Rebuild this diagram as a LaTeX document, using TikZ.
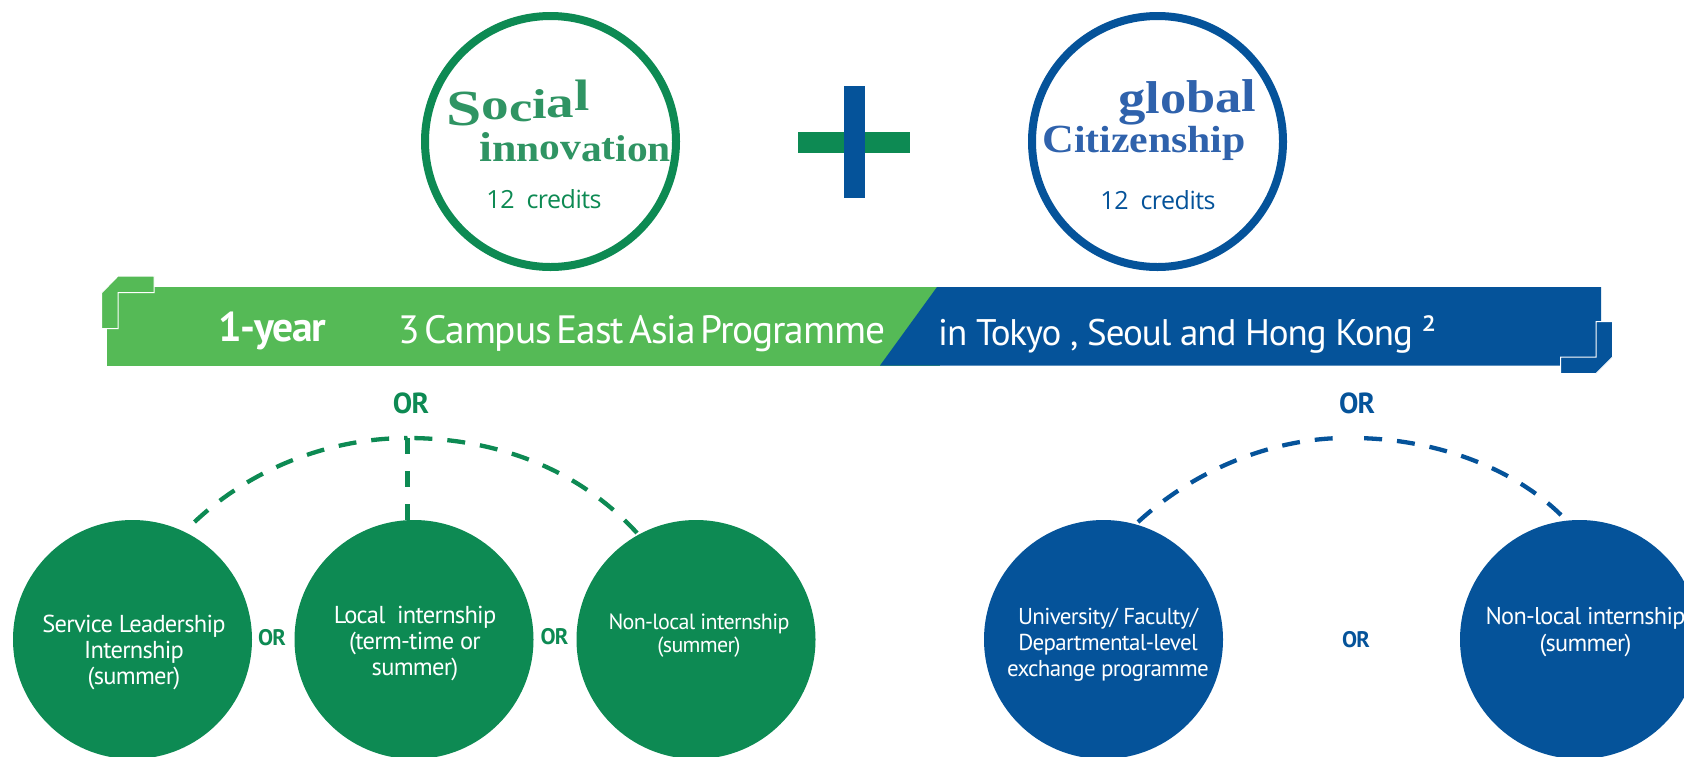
\documentclass[tikz,border=0pt]{standalone}
\usepackage{fontspec}
\setmainfont{PT Sans}[LetterSpace=-3]
\newfontfamily\logofont{Liberation Serif}[BoldFont={Liberation Serif Bold}]
\newfontfamily\crfont{Open Sans}[LetterSpace=-2]
\definecolor{dgreen}{HTML}{0D8A53}
\definecolor{lgreen}{HTML}{55BA56}
\definecolor{dblue}{HTML}{05539A}
\definecolor{lgreenlogo}{HTML}{2F9463}
\definecolor{lbluelogo}{HTML}{2F62AC}
\newcommand{\lt}[3]{\raisebox{#1pt}{\fontsize{#2}{#2}\selectfont #3}}
\tikzset{
  x=1pt,y=-1pt,
  ringg/.style={circle,draw=dgreen,line width=8pt,outer sep=0pt,minimum size=251pt,inner sep=0pt},
  ringb/.style={circle,draw=dblue,line width=8pt,outer sep=0pt,minimum size=251pt,inner sep=0pt},
  discg/.style={circle,fill=dgreen,minimum size=239pt,inner sep=0pt},
  discb/.style={circle,fill=dblue,minimum size=239pt,inner sep=0pt},
  disctext/.style={text=white,align=center,inner sep=0pt},
  ortext/.style={font=\bfseries\fontsize{22.5}{26}\selectfont,inner sep=0pt},
  ortop/.style={font=\bfseries\fontsize{29}{32}\selectfont,inner sep=0pt},
  dashg/.style={draw=dgreen,line width=4.3pt,dash pattern=on 18pt off 15pt},
  dashb/.style={draw=dblue,line width=4.3pt,dash pattern=on 18pt off 15pt},
  dashv/.style={draw=dgreen,line width=4.3pt,dash pattern=on 16pt off 17pt},
  bantext/.style={text=white,anchor=base west,inner sep=0pt},
  cornerg/.style={fill=lgreen,draw=white,line width=1pt},
  cornerb/.style={fill=dblue,draw=white,line width=1pt},
}
\begin{document}
\begin{tikzpicture}
\clip (0,0) rectangle (1684,756);
\fill[white] (0,0) rectangle (1684,756);
% top rings
\node[ringg] (ringS) at (550.5,141.5) {};
\node[ringb] (ringC) at (1157.5,141.5) {};
\node[text=lgreenlogo,font=\logofont\bfseries,inner sep=0pt,anchor=base west] (wSocial) at (446,125) {\scalebox{1.38}[1.1]{\lt{0}{46}{S}\lt{5}{40}{o}\lt{3}{38}{c}\lt{6}{38}{i}\lt{7}{40}{a}\lt{13}{40}{l}}};
\node[text=lgreenlogo,font=\logofont\bfseries,inner sep=0pt,anchor=base west] (wInno) at (479,161) {\scalebox{1.22}[1.1]{\lt{0}{38}{i}\lt{0}{36}{n}\lt{0}{34}{n}\lt{1}{34}{o}\lt{1}{34}{v}\lt{0}{34}{a}\lt{1}{34}{t}\lt{0}{34}{i}\lt{0}{34}{o}\lt{0}{34}{n}}};
\node[text=dgreen,font=\crfont\fontsize{25}{28}\selectfont,inner sep=0pt] (crS) at (544,199.5) {12\ \ credits};
\node[text=lbluelogo,font=\logofont\bfseries,inner sep=0pt,anchor=base west] (wGlobal) at (1118,114) {\scalebox{1.14}[1]{\lt{0}{48}{g}\lt{1}{46}{l}\lt{1}{46}{o}\lt{2}{46}{b}\lt{2}{46}{a}\lt{3}{46}{l}}};
\node[text=lbluelogo,font=\logofont\bfseries,inner sep=0pt,anchor=base west] (wCiti) at (1042,152) {\scalebox{1.16}[1.05]{\lt{0}{38}{C}\lt{0}{36}{i}\lt{0}{36}{t}\lt{0}{36}{i}\lt{0}{36}{z}\lt{0}{36}{e}\lt{0}{36}{n}\lt{0}{36}{s}\lt{0}{36}{h}\lt{0}{36}{i}\lt{0}{36}{p}}};
\node[text=dblue,font=\crfont\fontsize{25}{28}\selectfont,inner sep=0pt] (crC) at (1158,200.5) {12\ \ credits};
% plus
\fill[dgreen] (798,132) rectangle (910,153);
\fill[dblue] (844,86) rectangle (865,198);
% banner
\fill[lgreen] (107,287) rectangle (940,366);
\fill[dblue] (937,287) -- (1601,287) -- (1601,365.5) -- (880,365.5) -- cycle;
\draw[cornerg] (118,276) -- (154,276) -- (154,292.5) -- (118,292.5) -- (118,328.5) -- (101.5,328.5) -- (101.5,293) -- cycle;
\draw[cornerb] (1596,321.5) -- (1612.5,321.5) -- (1612.5,357) -- (1596,373.5) -- (1560.5,373.5) -- (1560.5,357) -- (1596,357) -- cycle;
\node[bantext,font=\bfseries\fontsize{41.5}{44}\selectfont] (tYear) at (218,341) {1-year};
\node[bantext,font=\fontsize{39.5}{42}\selectfont,execute at begin node={\spaceskip=.13em}] (tProg) at (398,343) {3 Campus East Asia Programme};
\node[bantext,font=\fontsize{37}{42}\selectfont] (tCity) at (938,345) {in Tokyo , Seoul and Hong Kong ²};
% discs
\node[discg] (c1) at (132.5,639.5) {};
\node[discg] (c2) at (414,639.5) {};
\node[discg] (c3) at (696,639.5) {};
\node[discb] (c4) at (1103.5,639.5) {};
\node[discb] (c5) at (1579.5,639.5) {};
\node[disctext,font=\fontsize{24.5}{26}\selectfont] (t1) at (134,652) {Service Leadership\\Internship\\(summer)};
\node[disctext,font=\fontsize{24.5}{26}\selectfont] (t2) at (415,644) {Local\ \ internship\\(term-time or\\summer)};
\node[disctext,font=\fontsize{22}{23}\selectfont] (t3) at (699,636) {Non-local internship\\(summer)};
\node[disctext,font=\fontsize{23}{26}\selectfont] (t4) at (1108,645) {University/ Faculty/\\Departmental-level\\exchange programme};
\node[disctext,font=\fontsize{24.3}{26.5}\selectfont] (t5) at (1585.5,632) {Non-local internship\\(summer)};
% OR labels
\node[ortop,text=dgreen] (orG) at (411,403) {OR};
\node[ortop,text=dblue] (orB) at (1357,403) {OR};
\node[ortext,text=dgreen] (or1) at (272,638) {OR};
\node[ortext,text=dgreen] (or2) at (554.5,636.5) {OR};
\node[ortext,text=dblue] (or3) at (1356,640) {OR};
% connectors
\coordinate (hubG) at (407.5,438);
\coordinate (hubB) at (1345,438);
\coordinate (hubBr) at (1352,438);
\coordinate (e1) at (194.5,522);
\coordinate (e2) at (407.5,520);
\coordinate (e3) at (637,533);
\coordinate (e4) at (1138,522);
\coordinate (e5) at (1561,515);
\draw[dashg] (e1) .. controls (255,465) and (335,438) .. (hubG);
\draw[dashg] (e3) .. controls (575,465) and (490,438) .. (hubG);
\draw[dashv] (hubG) -- (e2);
\draw[dashb] (e4) .. controls (1200,465) and (1280,438) .. (hubB);
\draw[dashb] (e5) .. controls (1510,465) and (1430,438) .. (hubBr);
\end{tikzpicture}
\end{document}
